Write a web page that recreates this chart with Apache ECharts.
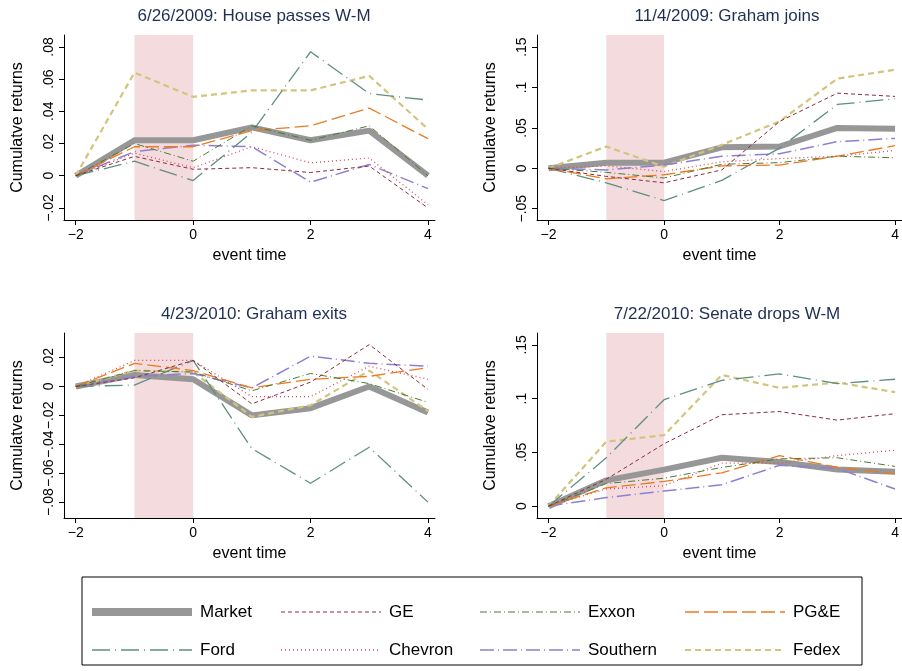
<!DOCTYPE html>
<html><head><meta charset="utf-8">
<script src="https://cdn.jsdelivr.net/npm/echarts@6/dist/echarts.min.js"></script>
<style>html,body{margin:0;padding:0;background:#fff}#c{width:902px;height:671px}</style>
</head><body><div id="c"></div>
<script>
const xs = [-2,-1,0,1,2,3,4];
const seriesNames = ['Market','GE','Exxon','PG&E','Ford','Chevron','Southern','Fedex'];
const titles = ['6/26/2009: House passes W-M','11/4/2009: Graham joins','4/23/2010: Graham exits','7/22/2010: Senate drops W-M'];
const yTicks = [[-0.02,0,0.02,0.04,0.06,0.08],[-0.05,0,0.05,0.1,0.15],[-0.08,-0.06,-0.04,-0.02,0,0.02],[0,0.05,0.1,0.15]];
const yTickLabels = [['-.02','0','.02','.04','.06','.08'],['-.05','0','.05','.1','.15'],['-.08','-.06','-.04','-.02','0','.02'],['0','.05','.1','.15']];
const xTicks = [-2,0,2,4];
// panel 1
const p1Market=[0,.022,.022,.030,.022,.028,0];
const p1GE=[0,.012,.004,.005,.002,.006,-.02];
const p1Exxon=[0,.02,.009,.031,.022,.031,0];
const p1PGE=[0,.018,.018,.028,.031,.042,.023];
const p1Ford=[0,.009,-.003,.027,.077,.051,.047];
const p1Chevron=[0,.014,.005,.018,.008,.011,-.018];
const p1Southern=[0,.015,.019,.018,-.004,.007,-.008];
const p1Fedex=[0,.064,.049,.053,.053,.062,.029];
// panel 2
const p2Market=[0,.007,.007,.026,.027,.050,.049];
const p2GE=[0,-.01,-.018,-.002,.058,.093,.089];
const p2Exxon=[0,-.005,-.012,.005,.007,.015,.013];
const p2PGE=[0,-.013,-.008,.003,.004,.015,.028];
const p2Ford=[0,-.018,-.040,-.015,.025,.079,.086];
const p2Chevron=[0,.003,-.004,.008,.012,.015,.022];
const p2Southern=[0,-.002,.004,.015,.018,.033,.037];
const p2Fedex=[0,.027,.002,.029,.058,.111,.122];
// panel 3
const p3Market=[0,.008,.005,-.020,-.015,0,-.018];
const p3GE=[0,.006,.018,-.012,.003,.029,-.002];
const p3Exxon=[0,.011,.01,-.003,.009,.002,-.011];
const p3PGE=[0,.016,.011,-.001,.005,.007,.013];
const p3Ford=[0,.001,.018,-.043,-.067,-.042,-.080];
const p3Chevron=[0,.018,.018,-.007,-.007,.014,.005];
const p3Southern=[0,.007,.009,-.001,.021,.016,.014];
const p3Fedex=[0,.011,.01,-.021,-.013,.011,-.017];
// panel 4
const p4Market=[0,.024,.034,.045,.041,.034,.032];
const p4GE=[0,.025,.058,.085,.088,.080,.086];
const p4Exxon=[0,.021,.026,.036,.044,.045,.037];
const p4PGE=[0,.017,.023,.031,.047,.036,.030];
const p4Ford=[0,.045,.099,.117,.123,.114,.118];
const p4Chevron=[0,.016,.019,.040,.040,.047,.052];
const p4Southern=[0,.008,.014,.02,.038,.035,.016];
const p4Fedex=[0,.06,.066,.122,.110,.115,.106];

const panels=[
 [p1Market,p1GE,p1Exxon,p1PGE,p1Ford,p1Chevron,p1Southern,p1Fedex],
 [p2Market,p2GE,p2Exxon,p2PGE,p2Ford,p2Chevron,p2Southern,p2Fedex],
 [p3Market,p3GE,p3Exxon,p3PGE,p3Ford,p3Chevron,p3Southern,p3Fedex],
 [p4Market,p4GE,p4Exxon,p4PGE,p4Ford,p4Chevron,p4Southern,p4Fedex]];
const styles=[
 {color:'#979797',width:6,type:'solid'},
 {color:'#8e2a3a',width:1,type:[4,3]},
 {color:'#4e7a34',width:1,type:[7,3,1,3]},
 {color:'#ec7a1e',width:1.3,type:[14,5]},
 {color:'#5f8f80',width:1.3,type:[18,5,1,5]},
 {color:'#d44a5c',width:1.3,type:[1,3]},
 {color:'#8d80d2',width:1.5,type:[14,4,1,4]},
 {color:'#d3c47d',width:2.2,type:[6,4]}];
const yRange=[[-0.0275,0.0874],[-0.064,0.165],[-0.091,0.037],[-0.011,0.161]];
const gridPos=[{left:64,top:35,width:371,height:185},{left:537,top:35,width:371,height:185},{left:64,top:333,width:371,height:185},{left:537,top:333,width:371,height:185}];
const grid=[],xAxis=[],yAxis=[],series=[],title=[];
for(let i=0;i<4;i++){
 grid.push(gridPos[i]);
 title.push({text:titles[i],left:gridPos[i].left+185,top:gridPos[i].top-32,textAlign:'center',textStyle:{color:'#1f2f52',fontSize:17,fontWeight:'normal',fontFamily:'Liberation Sans'}});
 xAxis.push({type:'value',gridIndex:i,min:-2.2,max:4.12,name:'event time',nameLocation:'middle',nameGap:28,
  nameTextStyle:{fontSize:16,color:'#000',fontFamily:'Liberation Sans'},
  axisLine:{onZero:false,lineStyle:{color:'#000',width:1}},splitLine:{show:false},
  axisTick:{length:5,lineStyle:{color:'#000'},customValues:xTicks},
  axisLabel:{color:'#000',fontSize:14,fontFamily:'Liberation Sans',customValues:xTicks,formatter:v=>v<0?'\u2212'+(-v):String(v)}});
 yAxis.push({type:'value',gridIndex:i,min:yRange[i][0],max:yRange[i][1],name:'Cumulatve returns',nameLocation:'middle',nameGap:38,
  nameTextStyle:{fontSize:16,color:'#000',fontFamily:'Liberation Sans'},
  axisLine:{show:true,onZero:false,lineStyle:{color:'#000'}},splitLine:{show:false},
  axisTick:{show:true,length:5,lineStyle:{color:'#000'},customValues:yTicks[i]},
  axisLabel:{color:'#000',fontSize:14,rotate:90,fontFamily:'Liberation Sans',customValues:yTicks[i],
   formatter:v=>{const k=yTicks[i].findIndex(t=>Math.abs(t-v)<1e-9);return k>=0?yTickLabels[i][k].replace('-','\u2212'):'';}}});
 series.push({type:'line',xAxisIndex:i,yAxisIndex:i,data:[],silent:true,
  markArea:{silent:true,itemStyle:{color:'rgba(236,200,205,0.65)'},data:[[{xAxis:-1},{xAxis:0}]]}});
 for(let s=7;s>=0;s--){
  const st=styles[s];
  series.push({type:'line',name:seriesNames[s],xAxisIndex:i,yAxisIndex:i,symbol:'none',animation:false,z:s===0?1:2,
   data:xs.map((x,k)=>[x,panels[i][s][k]]),
   lineStyle:{color:st.color,width:st.width,type:st.type},itemStyle:{color:st.color}});
 }
}
// legend drawn as graphics
const colStart=[92,281,480,685], lineLen=100, rowY=[612,650];
const graphic=[{type:'rect',shape:{x:82,y:577,width:780,height:88},style:{fill:'none',stroke:'#000',lineWidth:1}}];
seriesNames.forEach((n,s)=>{
 const r=Math.floor(s/4), c=s%4, st=styles[s];
 graphic.push({type:'line',shape:{x1:colStart[c],y1:rowY[r],x2:colStart[c]+lineLen,y2:rowY[r]},
  style:{stroke:st.color,lineWidth:s===0?8:st.width,lineDash:Array.isArray(st.type)?st.type:null}});
 graphic.push({type:'text',x:colStart[c]+lineLen+8,y:rowY[r],style:{text:n,fill:'#000',font:'17px "Liberation Sans"',textAlign:'left',textVerticalAlign:'middle'}});
});
const chart=echarts.init(document.getElementById('c'));
chart.setOption({animation:false,title,grid,xAxis,yAxis,series,graphic});
</script></body></html>
